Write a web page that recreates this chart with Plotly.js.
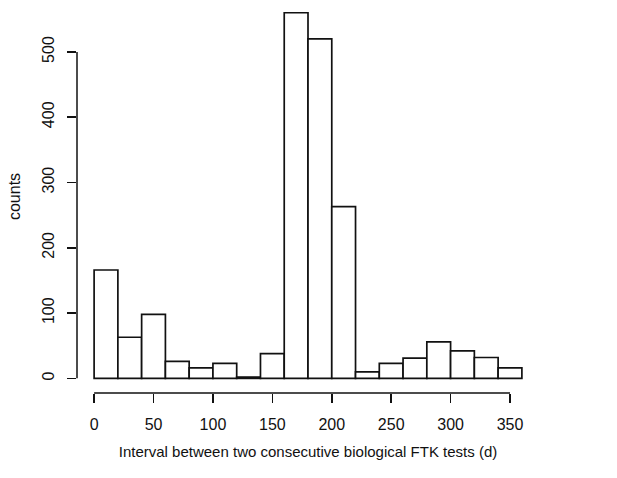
<!DOCTYPE html>
<html>
<head>
<meta charset="utf-8">
<script src="https://cdn.plot.ly/plotly-3.0.1.min.js"></script>
<style>html,body{margin:0;padding:0;background:#fff}#chart{width:617px;height:478px}</style>
</head>
<body>
<div id="chart"></div>
<script>
var binStarts = [0,20,40,60,80,100,120,140,160,180,200,220,240,260,280,300,320,340];
var binWidth = 20;
var counts = [166,63,98,26,16,23,2,38,560,520,263,10,23,31,56,42,32,16];
var xTicks = [0,50,100,150,200,250,300,350];
var yTicks = [0,100,200,300,400,500];
var xTitle = "Interval between two consecutive biological FTK tests (d)";
var yTitle = "counts";

var trace = {
  type: 'bar',
  x: binStarts,
  y: counts,
  width: binStarts.map(function(){return binWidth;}),
  offset: 0,
  marker: {color: '#ffffff', line: {color: '#111111', width: 1.7}},
  hoverinfo: 'x+y'
};

var font = {family: 'Liberation Sans, Arial, sans-serif', color: '#111111'};
var layout = {
  width: 617, height: 478,
  margin: {l: 77, r: 78, t: 0, b: 85},
  paper_bgcolor: '#ffffff', plot_bgcolor: '#ffffff',
  showlegend: false,
  bargap: 0,
  xaxis: {
    range: [-14.4, 374.4],
    tickvals: xTicks, ticktext: xTicks.map(String),
    ticks: 'outside', ticklen: 9, tickwidth: 1.5, tickcolor: '#111111',
    ticklabelstandoff: 8,
    showgrid: false, zeroline: false, showline: false,
    tickfont: Object.assign({size: 16}, font),
    title: {text: xTitle, font: Object.assign({size: 15}, font), standoff: 14}
  },
  yaxis: {
    range: [-22.4, 579.5],
    tickvals: yTicks, ticktext: yTicks.map(String),
    ticks: 'outside', ticklen: 9, tickwidth: 1.5, tickcolor: '#111111',
    tickangle: -90,
    ticklabelstandoff: 7,
    showgrid: false, zeroline: false, showline: false,
    tickfont: Object.assign({size: 16}, font),
    title: {text: yTitle, font: Object.assign({size: 16}, font), standoff: 14}
  },
  shapes: [
    {type: 'line', xref: 'x', yref: 'paper', x0: xTicks[0], x1: xTicks[xTicks.length-1], y0: 0, y1: 0,
     line: {color: '#111111', width: 1.5}},
    {type: 'line', xref: 'paper', yref: 'y', x0: 0, x1: 0, y0: yTicks[0], y1: yTicks[yTicks.length-1],
     line: {color: '#111111', width: 1.5}}
  ]
};

Plotly.newPlot('chart', [trace], layout, {displayModeBar: false, staticPlot: true});
</script>
</body>
</html>
